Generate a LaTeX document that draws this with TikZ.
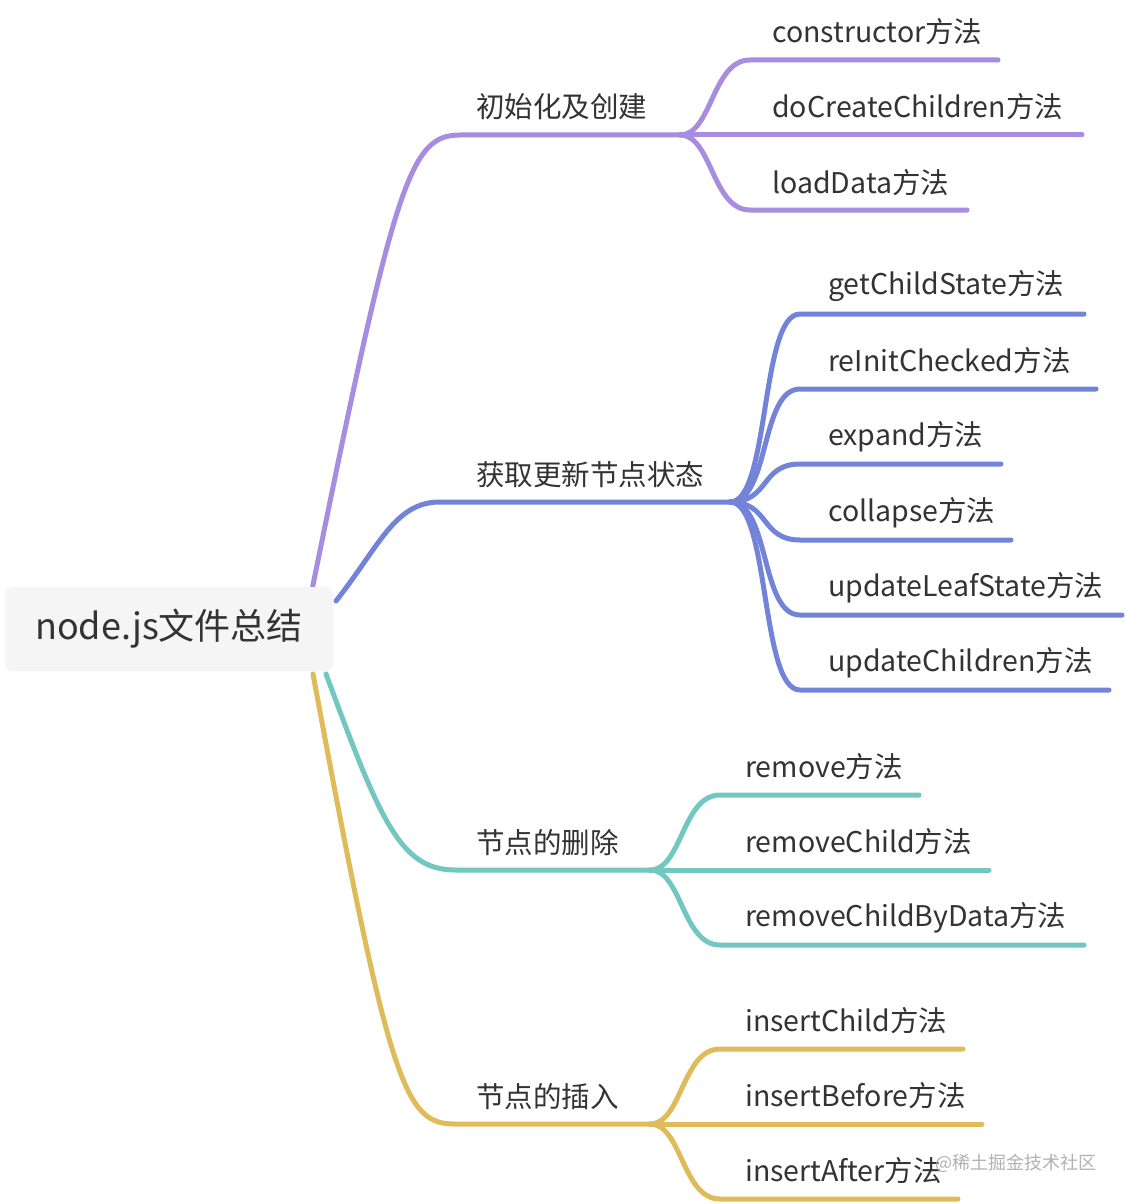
\documentclass[tikz,border=0pt]{standalone}
\usepackage{fontspec}
\setmainfont{Noto Sans CJK SC}
\definecolor{cpur}{HTML}{A78CDF}
\definecolor{cblu}{HTML}{7383D8}
\definecolor{ctea}{HTML}{72C7C0}
\definecolor{cgol}{HTML}{DFBB5A}
\definecolor{ctxt}{HTML}{333333}
\begin{document}
\begin{tikzpicture}[x=1pt,y=-1pt,
  conn/.style={line width=5pt,line cap=round},
  lbl/.style={anchor=west,inner sep=0pt,text=ctxt,font=\fontsize{28.5}{32}\selectfont},
  rootbox/.style={fill=black!4,rounded corners=8pt,minimum width=328pt,minimum height=84pt,inner sep=0pt,text=ctxt,font=\fontsize{36}{42}\selectfont}]
\useasboundingbox (0,0) rectangle (1126,1204);
\fill[white] (0,0) rectangle (1126,1204);

% ---------- purple ----------
\coordinate (p0) at (312,590);
\coordinate (p1) at (460,135);
\coordinate (pj) at (680,135);
\coordinate (pa) at (750,60);  \coordinate (pa2) at (998,60);
\coordinate (pb) at (750,135); \coordinate (pb2) at (1082,135);
\coordinate (pc) at (750,210); \coordinate (pc2) at (967,210);
\draw[conn,cpur] (p0) .. controls (395,180) and (410,135) .. (p1) -- (pj);
\draw[conn,cpur] (pj) .. controls (712,135) and (712,60) .. (pa) -- (pa2);
\draw[conn,cpur] (pj) -- (pb2);
\draw[conn,cpur] (pj) .. controls (712,135) and (712,210) .. (pc) -- (pc2);

% ---------- blue ----------
\coordinate (b0) at (336,601);
\coordinate (b1) at (440,502);
\coordinate (bj) at (730,502);
\foreach \n/\y/\e in {a/314/1084, b/389/1096, c/464/1001, d/540/1011, e/615/1122, f/690/1109}{
  \coordinate (b\n) at (800,\y);
  \coordinate (b\n2) at (\e,\y);
}
\draw[conn,cblu] (b0) .. controls (380,545) and (395,502) .. (b1) -- (bj);
\foreach \n in {a,b,c,d,e,f}{
  \draw[conn,cblu] (bj) .. controls (770,502) and (760,0|-b\n) .. (b\n) -- (b\n2);
}

% ---------- teal ----------
\coordinate (t0) at (326,674);
\coordinate (t1) at (455,870);
\coordinate (tj) at (650,870);
\coordinate (ta) at (720,795); \coordinate (ta2) at (919,795);
\coordinate (tb) at (720,870); \coordinate (tb2) at (989,870);
\coordinate (tc) at (720,945); \coordinate (tc2) at (1084,945);
\draw[conn,ctea] (t0) .. controls (380,820) and (400,870) .. (t1) -- (tj);
\draw[conn,ctea] (tj) .. controls (682,870) and (682,795) .. (ta) -- (ta2);
\draw[conn,ctea] (tj) -- (tb2);
\draw[conn,ctea] (tj) .. controls (682,870) and (682,945) .. (tc) -- (tc2);

% ---------- gold ----------
\coordinate (g0) at (313,674);
\coordinate (g1) at (455,1124);
\coordinate (gj) at (650,1124);
\coordinate (ga) at (720,1049); \coordinate (ga2) at (963,1049);
\coordinate (gb) at (720,1124); \coordinate (gb2) at (982,1124);
\coordinate (gc) at (720,1199); \coordinate (gc2) at (958,1199);
\draw[conn,cgol] (g0) .. controls (390,1090) and (405,1124) .. (g1) -- (gj);
\draw[conn,cgol] (gj) .. controls (682,1124) and (682,1049) .. (ga) -- (ga2);
\draw[conn,cgol] (gj) -- (gb2);
\draw[conn,cgol] (gj) .. controls (682,1124) and (682,1199) .. (gc) -- (gc2);

% ---------- root ----------
\node[rootbox] (root) at (169,629) {node.js文件总结};

% ---------- labels ----------
\node[lbl] (l1) at (476,107) {初始化及创建};
\node[lbl] (l1a) at (772,32) {constructor方法};
\node[lbl] (l1b) at (772,107) {doCreateChildren方法};
\node[lbl] (l1c) at (772,183) {loadData方法};

\node[lbl] (l2) at (476,475) {获取更新节点状态};
\node[lbl] (l2a) at (828,286) {getChildState方法};
\node[lbl] (l2b) at (828,361) {reInitChecked方法};
\node[lbl] (l2c) at (828,437) {expand方法};
\node[lbl] (l2d) at (828,513) {collapse方法};
\node[lbl] (l2e) at (828,588) {updateLeafState方法};
\node[lbl] (l2f) at (828,663) {updateChildren方法};

\node[lbl] (l3) at (476,843) {节点的删除};
\node[lbl] (l3a) at (745,767) {remove方法};
\node[lbl] (l3b) at (745,842) {removeChild方法};
\node[lbl] (l3c) at (745,918) {removeChildByData方法};

\node[lbl] (l4) at (476,1097) {节点的插入};
\node[lbl] (l4a) at (745,1021) {insertChild方法};
\node[lbl] (l4b) at (745,1096) {insertBefore方法};
\node[lbl] (l4c) at (745,1171) {insertAfter方法};

\node[anchor=west,inner sep=0pt,text=black!30,font=\fontsize{18}{20}\selectfont] (wm) at (935,1163) {@稀土掘金技术社区};
\end{tikzpicture}
\end{document}
